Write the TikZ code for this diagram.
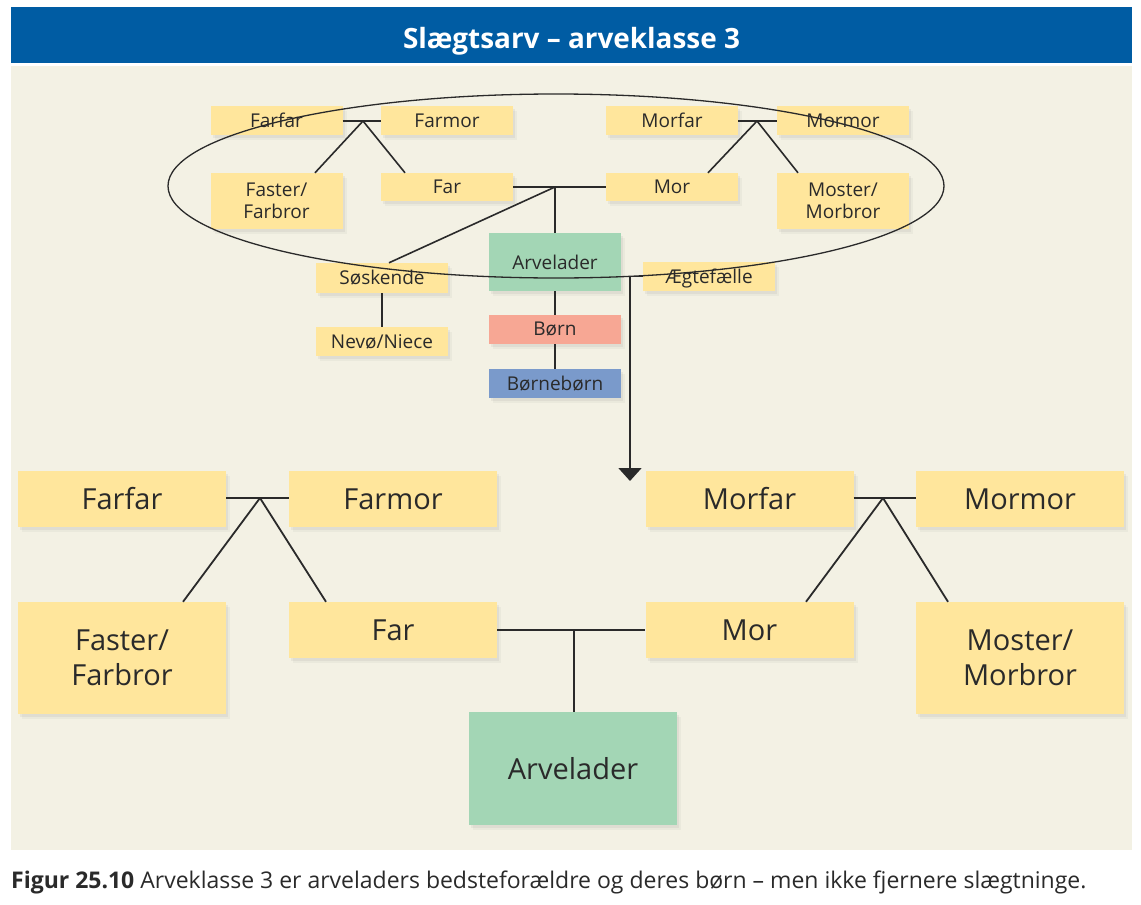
\documentclass[tikz,border=0pt]{standalone}
\usepackage{fontspec}
\setmainfont{Open Sans}
\usetikzlibrary{shadows,arrows.meta,calc}
\definecolor{ybox}{HTML}{FFE69C}
\definecolor{gbox}{HTML}{A3D6B5}
\definecolor{rbox}{HTML}{F7A794}
\definecolor{bbox}{HTML}{7A9ACB}
\definecolor{beige}{HTML}{F3F1E4}
\definecolor{titleblue}{HTML}{005CA3}
\definecolor{txt}{HTML}{2A2A2A}
\tikzset{
  nbox/.style={fill=ybox, text=txt, inner sep=0pt, align=center,
    drop shadow={opacity=0.10, shadow xshift=2pt, shadow yshift=-3pt},
    drop shadow={opacity=0.07, shadow xshift=4pt, shadow yshift=-5pt}},
  sbox/.style={nbox, minimum width=132pt, minimum height=29pt, font=\fontsize{19}{22}\selectfont},
  bigbox/.style={nbox, minimum width=208pt, minimum height=56pt, font=\fontsize{29}{35}\selectfont},
  conn/.style={draw=txt, line width=1.8pt},
  thinconn/.style={draw=txt, line width=1.6pt}
}
\begin{document}
\begin{tikzpicture}[x=1pt,y=-1pt]
\useasboundingbox (0,0) rectangle (1141,905);
\fill[white] (0,0) rectangle (1141,905);
\fill[titleblue] (11,7) rectangle (1132,63);
\fill[beige] (11,66) rectangle (1132,850);
\node[text=white, anchor=base, inner sep=0pt] (title) at (571.5,48)
  {\resizebox{337pt}{!}{\bfseries Slægtsarv – arveklasse 3}};
\node[text=txt, anchor=base west, inner sep=0pt] (caption) at (11,888)
  {\resizebox{1075pt}{!}{\textbf{Figur 25.10} Arveklasse 3 er arveladers bedsteforældre og deres børn – men ikke fjernere slægtninge.}};

% top (small) diagram
\node[sbox] (tFarfar) at (276.5,120.5) {Farfar};
\node[sbox] (tFarmor) at (447,120.5) {Farmor};
\node[sbox] (tMorfar) at (672,120.5) {Morfar};
\node[sbox] (tMormor) at (843,120.5) {Mormor};
\node[sbox, minimum height=56pt] (tFaster) at (276.5,201) {Faster/\\Farbror};
\node[sbox, minimum height=28pt] (tFar) at (447,187) {Far};
\node[sbox, minimum height=28pt] (tMor) at (672,187) {Mor};
\node[sbox, minimum height=56pt] (tMoster) at (843,201) {Moster/\\Morbror};
\node[sbox, fill=gbox, minimum height=58pt] (tArv) at (555,262) {Arvelader};
\node[sbox, minimum height=30pt] (tSos) at (382,278) {Søskende};
\node[sbox] (tNevo) at (382,341.5) {Nevø/Niece};
\node[sbox, text depth=0pt] (tAeg) at (709,276.5) {Ægtefælle};
\node[sbox, fill=rbox] (tBorn) at (555,329.5) {Børn};
\node[sbox, fill=bbox] (tBB) at (555,383.5) {Børnebørn};

\coordinate (j1) at (363,121);
\coordinate (j2) at (757,121);
\coordinate (j3) at (555,187);
\coordinate (arrtop) at (630,276.5);
\coordinate (arrend) at (630,481);

\draw[thinconn] (tFarfar.east |- j1) -- (tFarmor.west |- j1);
\draw[thinconn] (j1) -- ([xshift=38.5pt]tFaster.north);
\draw[thinconn] (j1) -- ([xshift=-42pt]tFar.north);
\draw[thinconn] (tMorfar.east |- j2) -- (tMormor.west |- j2);
\draw[thinconn] (j2) -- ([xshift=36pt]tMor.north);
\draw[thinconn] (j2) -- ([xshift=-45pt]tMoster.north);
\draw[thinconn] (tFar.east) -- (tMor.west);
\draw[thinconn] (j3) -- (tArv.north);
\draw[thinconn] (j3) -- ([xshift=7pt]tSos.north);
\draw[thinconn] (tSos.south) -- (tNevo.north);
\draw[thinconn] (tArv.south) -- (tBorn.north);
\draw[thinconn] (tBorn.south) -- (tBB.north);
\draw[thinconn] (tArv.east |- tAeg.west) -- (tAeg.west);
\draw[thinconn, -{Triangle[width=23pt,length=13pt]}] (arrtop) -- (arrend);

\draw[draw=txt, line width=1.3pt] (556,186) ellipse [x radius=388pt, y radius=92pt];

% bottom (large) diagram
\node[bigbox] (bFarfar) at (122,499) {Farfar};
\node[bigbox] (bFarmor) at (393,499) {Farmor};
\node[bigbox] (bMorfar) at (749.5,499) {Morfar};
\node[bigbox] (bMormor) at (1020,499) {Mormor};
\node[bigbox, minimum height=112pt] (bFaster) at (122,658) {Faster/\\Farbror};
\node[bigbox] (bFar) at (393,630) {Far};
\node[bigbox] (bMor) at (749.5,630) {Mor};
\node[bigbox, minimum height=112pt] (bMoster) at (1020,658) {Moster/\\Morbror};
\node[bigbox, fill=gbox, minimum height=113pt] (bArv) at (573,768.5) {Arvelader};

\coordinate (j4) at (260,498);
\coordinate (j5) at (883,498);
\coordinate (j6) at (574,630);

\draw[conn] (bFarfar.east |- j4) -- (bFarmor.west |- j4);
\draw[conn] (j4) -- ([xshift=61pt]bFaster.north);
\draw[conn] (j4) -- ([xshift=-67pt]bFar.north);
\draw[conn] (bMorfar.east |- j5) -- (bMormor.west |- j5);
\draw[conn] (j5) -- ([xshift=56.5pt]bMor.north);
\draw[conn] (j5) -- ([xshift=-72pt]bMoster.north);
\draw[conn] (bFar.east) -- (bMor.west);
\draw[conn] (j6) -- (j6 |- bArv.north);
\end{tikzpicture}
\end{document}
